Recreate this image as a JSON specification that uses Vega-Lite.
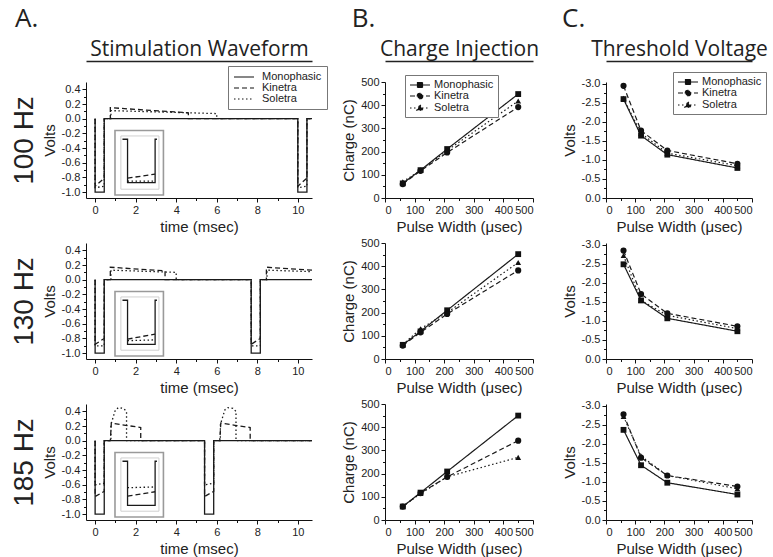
{
"$schema": "https://vega.github.io/schema/vega-lite/v6.json",
"padding": {"left": 10, "top": 6, "right": 10, "bottom": 6},
"columns": 3,
"spacing": {"row": 45, "column": 73},
"bounds": "flush",
"resolve": {"scale": {"strokeDash": "independent"}, "legend": {"strokeDash": "independent"}},
"datasets": {
"box": [
{"k":"outer","x1":0.98,"x2":3.37,"y1":-0.16,"y2":-1.04},
{"k":"inner","x1":1.27,"x2":3.15,"y1":-0.235,"y2":-0.96}
],
"wave": [
{"r":"100","s":"Kinetra","p":"m","i":0,"t":0,"v":0},
{"r":"100","s":"Kinetra","p":"m","i":1,"t":0,"v":-0.92},
{"r":"100","s":"Kinetra","p":"m","i":2,"t":0.45,"v":-0.81},
{"r":"100","s":"Kinetra","p":"m","i":3,"t":0.45,"v":0},
{"r":"100","s":"Kinetra","p":"m","i":4,"t":0.75,"v":0},
{"r":"100","s":"Kinetra","p":"m","i":5,"t":0.75,"v":0.15},
{"r":"100","s":"Kinetra","p":"m","i":6,"t":4.6,"v":0.08},
{"r":"100","s":"Kinetra","p":"m","i":7,"t":4.6,"v":0},
{"r":"100","s":"Kinetra","p":"m","i":8,"t":10,"v":0},
{"r":"100","s":"Kinetra","p":"m","i":9,"t":10,"v":-0.92},
{"r":"100","s":"Kinetra","p":"m","i":10,"t":10.45,"v":-0.81},
{"r":"100","s":"Kinetra","p":"m","i":11,"t":10.45,"v":0},
{"r":"100","s":"Kinetra","p":"m","i":12,"t":10.7,"v":0},
{"r":"100","s":"Kinetra","p":"n","i":0,"t":1.6,"v":-0.81},
{"r":"100","s":"Kinetra","p":"n","i":1,"t":2.96,"v":-0.755},
{"r":"100","s":"Soletra","p":"m","i":0,"t":0,"v":0},
{"r":"100","s":"Soletra","p":"m","i":1,"t":0,"v":-0.94},
{"r":"100","s":"Soletra","p":"m","i":2,"t":0.45,"v":-0.92},
{"r":"100","s":"Soletra","p":"m","i":3,"t":0.45,"v":0},
{"r":"100","s":"Soletra","p":"m","i":4,"t":0.78,"v":0},
{"r":"100","s":"Soletra","p":"m","i":5,"t":0.78,"v":0.11},
{"r":"100","s":"Soletra","p":"m","i":6,"t":6,"v":0.07},
{"r":"100","s":"Soletra","p":"m","i":7,"t":6,"v":0},
{"r":"100","s":"Soletra","p":"m","i":8,"t":10,"v":0},
{"r":"100","s":"Soletra","p":"m","i":9,"t":10,"v":-0.94},
{"r":"100","s":"Soletra","p":"m","i":10,"t":10.45,"v":-0.92},
{"r":"100","s":"Soletra","p":"m","i":11,"t":10.45,"v":0},
{"r":"100","s":"Soletra","p":"m","i":12,"t":10.7,"v":0},
{"r":"100","s":"Soletra","p":"n","i":0,"t":1.6,"v":-0.85},
{"r":"100","s":"Soletra","p":"n","i":1,"t":2.96,"v":-0.85},
{"r":"100","s":"Monophasic","p":"m","i":0,"t":0,"v":0},
{"r":"100","s":"Monophasic","p":"m","i":1,"t":0,"v":-1},
{"r":"100","s":"Monophasic","p":"m","i":2,"t":0.45,"v":-1},
{"r":"100","s":"Monophasic","p":"m","i":3,"t":0.45,"v":0},
{"r":"100","s":"Monophasic","p":"m","i":4,"t":10,"v":0},
{"r":"100","s":"Monophasic","p":"m","i":5,"t":10,"v":-1},
{"r":"100","s":"Monophasic","p":"m","i":6,"t":10.45,"v":-1},
{"r":"100","s":"Monophasic","p":"m","i":7,"t":10.45,"v":0},
{"r":"100","s":"Monophasic","p":"m","i":8,"t":10.7,"v":0},
{"r":"100","s":"Monophasic","p":"n","i":0,"t":1.35,"v":-0.28},
{"r":"100","s":"Monophasic","p":"n","i":1,"t":1.6,"v":-0.28},
{"r":"100","s":"Monophasic","p":"n","i":2,"t":1.6,"v":-0.87},
{"r":"100","s":"Monophasic","p":"n","i":3,"t":2.96,"v":-0.87},
{"r":"100","s":"Monophasic","p":"n","i":4,"t":2.96,"v":-0.28},
{"r":"100","s":"Monophasic","p":"n","i":5,"t":3.05,"v":-0.28},

{"r":"130","s":"Kinetra","p":"m","i":0,"t":0,"v":0},
{"r":"130","s":"Kinetra","p":"m","i":1,"t":0,"v":-0.88},
{"r":"130","s":"Kinetra","p":"m","i":2,"t":0.45,"v":-0.8},
{"r":"130","s":"Kinetra","p":"m","i":3,"t":0.45,"v":0},
{"r":"130","s":"Kinetra","p":"m","i":4,"t":0.75,"v":0},
{"r":"130","s":"Kinetra","p":"m","i":5,"t":0.75,"v":0.17},
{"r":"130","s":"Kinetra","p":"m","i":6,"t":3.45,"v":0.12},
{"r":"130","s":"Kinetra","p":"m","i":7,"t":3.45,"v":0},
{"r":"130","s":"Kinetra","p":"m","i":8,"t":7.7,"v":0},
{"r":"130","s":"Kinetra","p":"m","i":9,"t":7.7,"v":-0.88},
{"r":"130","s":"Kinetra","p":"m","i":10,"t":8.15,"v":-0.8},
{"r":"130","s":"Kinetra","p":"m","i":11,"t":8.15,"v":0},
{"r":"130","s":"Kinetra","p":"m","i":12,"t":8.45,"v":0},
{"r":"130","s":"Kinetra","p":"m","i":13,"t":8.45,"v":0.17},
{"r":"130","s":"Kinetra","p":"m","i":14,"t":10.7,"v":0.13},
{"r":"130","s":"Kinetra","p":"n","i":0,"t":1.6,"v":-0.81},
{"r":"130","s":"Kinetra","p":"n","i":1,"t":2.96,"v":-0.74},
{"r":"130","s":"Soletra","p":"m","i":0,"t":0,"v":0},
{"r":"130","s":"Soletra","p":"m","i":1,"t":0,"v":-0.9},
{"r":"130","s":"Soletra","p":"m","i":2,"t":0.45,"v":-0.9},
{"r":"130","s":"Soletra","p":"m","i":3,"t":0.45,"v":0},
{"r":"130","s":"Soletra","p":"m","i":4,"t":0.78,"v":0},
{"r":"130","s":"Soletra","p":"m","i":5,"t":0.78,"v":0.13},
{"r":"130","s":"Soletra","p":"m","i":6,"t":4,"v":0.1},
{"r":"130","s":"Soletra","p":"m","i":7,"t":4,"v":0},
{"r":"130","s":"Soletra","p":"m","i":8,"t":7.7,"v":0},
{"r":"130","s":"Soletra","p":"m","i":9,"t":7.7,"v":-0.9},
{"r":"130","s":"Soletra","p":"m","i":10,"t":8.15,"v":-0.9},
{"r":"130","s":"Soletra","p":"m","i":11,"t":8.15,"v":0},
{"r":"130","s":"Soletra","p":"m","i":12,"t":8.48,"v":0},
{"r":"130","s":"Soletra","p":"m","i":13,"t":8.48,"v":0.13},
{"r":"130","s":"Soletra","p":"m","i":14,"t":10.7,"v":0.11},
{"r":"130","s":"Soletra","p":"n","i":0,"t":1.6,"v":-0.83},
{"r":"130","s":"Soletra","p":"n","i":1,"t":2.96,"v":-0.82},
{"r":"130","s":"Monophasic","p":"m","i":0,"t":0,"v":0},
{"r":"130","s":"Monophasic","p":"m","i":1,"t":0,"v":-1},
{"r":"130","s":"Monophasic","p":"m","i":2,"t":0.45,"v":-1},
{"r":"130","s":"Monophasic","p":"m","i":3,"t":0.45,"v":0},
{"r":"130","s":"Monophasic","p":"m","i":4,"t":7.7,"v":0},
{"r":"130","s":"Monophasic","p":"m","i":5,"t":7.7,"v":-1},
{"r":"130","s":"Monophasic","p":"m","i":6,"t":8.15,"v":-1},
{"r":"130","s":"Monophasic","p":"m","i":7,"t":8.15,"v":0},
{"r":"130","s":"Monophasic","p":"m","i":8,"t":10.7,"v":0},
{"r":"130","s":"Monophasic","p":"n","i":0,"t":1.35,"v":-0.28},
{"r":"130","s":"Monophasic","p":"n","i":1,"t":1.6,"v":-0.28},
{"r":"130","s":"Monophasic","p":"n","i":2,"t":1.6,"v":-0.88},
{"r":"130","s":"Monophasic","p":"n","i":3,"t":2.96,"v":-0.88},
{"r":"130","s":"Monophasic","p":"n","i":4,"t":2.96,"v":-0.28},
{"r":"130","s":"Monophasic","p":"n","i":5,"t":3.05,"v":-0.28},

{"r":"185","s":"Kinetra","p":"m","i":0,"t":0,"v":0},
{"r":"185","s":"Kinetra","p":"m","i":1,"t":0,"v":-0.76},
{"r":"185","s":"Kinetra","p":"m","i":2,"t":0.45,"v":-0.69},
{"r":"185","s":"Kinetra","p":"m","i":3,"t":0.45,"v":0},
{"r":"185","s":"Kinetra","p":"m","i":4,"t":0.75,"v":0},
{"r":"185","s":"Kinetra","p":"m","i":5,"t":0.8,"v":0.24},
{"r":"185","s":"Kinetra","p":"m","i":6,"t":1.5,"v":0.21},
{"r":"185","s":"Kinetra","p":"m","i":7,"t":2.25,"v":0.18},
{"r":"185","s":"Kinetra","p":"m","i":8,"t":2.25,"v":0},
{"r":"185","s":"Kinetra","p":"m","i":9,"t":5.4,"v":0},
{"r":"185","s":"Kinetra","p":"m","i":10,"t":5.4,"v":-0.76},
{"r":"185","s":"Kinetra","p":"m","i":11,"t":5.85,"v":-0.69},
{"r":"185","s":"Kinetra","p":"m","i":12,"t":5.85,"v":0},
{"r":"185","s":"Kinetra","p":"m","i":13,"t":6.15,"v":0},
{"r":"185","s":"Kinetra","p":"m","i":14,"t":6.2,"v":0.24},
{"r":"185","s":"Kinetra","p":"m","i":15,"t":6.9,"v":0.21},
{"r":"185","s":"Kinetra","p":"m","i":16,"t":7.65,"v":0.18},
{"r":"185","s":"Kinetra","p":"m","i":17,"t":7.65,"v":0},
{"r":"185","s":"Kinetra","p":"m","i":18,"t":10.7,"v":0},
{"r":"185","s":"Kinetra","p":"n","i":0,"t":1.6,"v":-0.755},
{"r":"185","s":"Kinetra","p":"n","i":1,"t":2.96,"v":-0.695},
{"r":"185","s":"Soletra","p":"m","i":0,"t":0,"v":0},
{"r":"185","s":"Soletra","p":"m","i":1,"t":0,"v":-0.6},
{"r":"185","s":"Soletra","p":"m","i":2,"t":0.45,"v":-0.58},
{"r":"185","s":"Soletra","p":"m","i":3,"t":0.45,"v":0},
{"r":"185","s":"Soletra","p":"m","i":4,"t":0.78,"v":0},
{"r":"185","s":"Soletra","p":"m","i":5,"t":0.78,"v":0.22},
{"r":"185","s":"Soletra","p":"m","i":6,"t":1.0,"v":0.42},
{"r":"185","s":"Soletra","p":"m","i":7,"t":1.15,"v":0.45},
{"r":"185","s":"Soletra","p":"m","i":8,"t":1.4,"v":0.44},
{"r":"185","s":"Soletra","p":"m","i":9,"t":1.55,"v":0.4},
{"r":"185","s":"Soletra","p":"m","i":10,"t":1.55,"v":0},
{"r":"185","s":"Soletra","p":"m","i":11,"t":5.4,"v":0},
{"r":"185","s":"Soletra","p":"m","i":12,"t":5.4,"v":-0.6},
{"r":"185","s":"Soletra","p":"m","i":13,"t":5.85,"v":-0.58},
{"r":"185","s":"Soletra","p":"m","i":14,"t":5.85,"v":0},
{"r":"185","s":"Soletra","p":"m","i":15,"t":6.18,"v":0},
{"r":"185","s":"Soletra","p":"m","i":16,"t":6.18,"v":0.22},
{"r":"185","s":"Soletra","p":"m","i":17,"t":6.4,"v":0.42},
{"r":"185","s":"Soletra","p":"m","i":18,"t":6.55,"v":0.45},
{"r":"185","s":"Soletra","p":"m","i":19,"t":6.8,"v":0.44},
{"r":"185","s":"Soletra","p":"m","i":20,"t":6.95,"v":0.4},
{"r":"185","s":"Soletra","p":"m","i":21,"t":6.95,"v":0},
{"r":"185","s":"Soletra","p":"m","i":22,"t":10.7,"v":0},
{"r":"185","s":"Soletra","p":"n","i":0,"t":1.6,"v":-0.64},
{"r":"185","s":"Soletra","p":"n","i":1,"t":2.96,"v":-0.63},
{"r":"185","s":"Monophasic","p":"m","i":0,"t":0,"v":0},
{"r":"185","s":"Monophasic","p":"m","i":1,"t":0,"v":-1},
{"r":"185","s":"Monophasic","p":"m","i":2,"t":0.45,"v":-1},
{"r":"185","s":"Monophasic","p":"m","i":3,"t":0.45,"v":0},
{"r":"185","s":"Monophasic","p":"m","i":4,"t":5.4,"v":0},
{"r":"185","s":"Monophasic","p":"m","i":5,"t":5.4,"v":-1},
{"r":"185","s":"Monophasic","p":"m","i":6,"t":5.85,"v":-1},
{"r":"185","s":"Monophasic","p":"m","i":7,"t":5.85,"v":0},
{"r":"185","s":"Monophasic","p":"m","i":8,"t":10.7,"v":0},
{"r":"185","s":"Monophasic","p":"n","i":0,"t":1.35,"v":-0.28},
{"r":"185","s":"Monophasic","p":"n","i":1,"t":1.6,"v":-0.28},
{"r":"185","s":"Monophasic","p":"n","i":2,"t":1.6,"v":-0.88},
{"r":"185","s":"Monophasic","p":"n","i":3,"t":2.96,"v":-0.88},
{"r":"185","s":"Monophasic","p":"n","i":4,"t":2.96,"v":-0.28},
{"r":"185","s":"Monophasic","p":"n","i":5,"t":3.05,"v":-0.28}
],
"charge": [
{"r":"100","s":"Monophasic","pw":60,"q":63},{"r":"100","s":"Monophasic","pw":120,"q":120},{"r":"100","s":"Monophasic","pw":210,"q":211},{"r":"100","s":"Monophasic","pw":450,"q":448},
{"r":"100","s":"Kinetra","pw":60,"q":60},{"r":"100","s":"Kinetra","pw":120,"q":117},{"r":"100","s":"Kinetra","pw":210,"q":196},{"r":"100","s":"Kinetra","pw":450,"q":392},
{"r":"100","s":"Soletra","pw":60,"q":70},{"r":"100","s":"Soletra","pw":120,"q":119},{"r":"100","s":"Soletra","pw":210,"q":205},{"r":"100","s":"Soletra","pw":450,"q":418},
{"r":"130","s":"Monophasic","pw":60,"q":61},{"r":"130","s":"Monophasic","pw":120,"q":119},{"r":"130","s":"Monophasic","pw":210,"q":210},{"r":"130","s":"Monophasic","pw":450,"q":452},
{"r":"130","s":"Kinetra","pw":60,"q":58},{"r":"130","s":"Kinetra","pw":120,"q":115},{"r":"130","s":"Kinetra","pw":210,"q":194},{"r":"130","s":"Kinetra","pw":450,"q":382},
{"r":"130","s":"Soletra","pw":60,"q":62},{"r":"130","s":"Soletra","pw":120,"q":130},{"r":"130","s":"Soletra","pw":210,"q":200},{"r":"130","s":"Soletra","pw":450,"q":416},
{"r":"185","s":"Monophasic","pw":60,"q":58},{"r":"185","s":"Monophasic","pw":120,"q":118},{"r":"185","s":"Monophasic","pw":210,"q":209},{"r":"185","s":"Monophasic","pw":450,"q":450},
{"r":"185","s":"Kinetra","pw":60,"q":58},{"r":"185","s":"Kinetra","pw":120,"q":116},{"r":"185","s":"Kinetra","pw":210,"q":186},{"r":"185","s":"Kinetra","pw":450,"q":342},
{"r":"185","s":"Soletra","pw":60,"q":58},{"r":"185","s":"Soletra","pw":120,"q":114},{"r":"185","s":"Soletra","pw":210,"q":186},{"r":"185","s":"Soletra","pw":450,"q":270}
],
"thr": [
{"r":"100","s":"Monophasic","pw":60,"v":-2.6},{"r":"100","s":"Monophasic","pw":120,"v":-1.64},{"r":"100","s":"Monophasic","pw":210,"v":-1.14},{"r":"100","s":"Monophasic","pw":450,"v":-0.79},
{"r":"100","s":"Kinetra","pw":60,"v":-2.95},{"r":"100","s":"Kinetra","pw":120,"v":-1.77},{"r":"100","s":"Kinetra","pw":210,"v":-1.25},{"r":"100","s":"Kinetra","pw":450,"v":-0.9},
{"r":"100","s":"Soletra","pw":60,"v":-2.62},{"r":"100","s":"Soletra","pw":120,"v":-1.7},{"r":"100","s":"Soletra","pw":210,"v":-1.18},{"r":"100","s":"Soletra","pw":450,"v":-0.85},
{"r":"130","s":"Monophasic","pw":60,"v":-2.49},{"r":"130","s":"Monophasic","pw":120,"v":-1.54},{"r":"130","s":"Monophasic","pw":210,"v":-1.07},{"r":"130","s":"Monophasic","pw":450,"v":-0.73},
{"r":"130","s":"Kinetra","pw":60,"v":-2.85},{"r":"130","s":"Kinetra","pw":120,"v":-1.71},{"r":"130","s":"Kinetra","pw":210,"v":-1.2},{"r":"130","s":"Kinetra","pw":450,"v":-0.86},
{"r":"130","s":"Soletra","pw":60,"v":-2.72},{"r":"130","s":"Soletra","pw":120,"v":-1.54},{"r":"130","s":"Soletra","pw":210,"v":-1.15},{"r":"130","s":"Soletra","pw":450,"v":-0.8},
{"r":"185","s":"Monophasic","pw":60,"v":-2.37},{"r":"185","s":"Monophasic","pw":120,"v":-1.44},{"r":"185","s":"Monophasic","pw":210,"v":-0.98},{"r":"185","s":"Monophasic","pw":450,"v":-0.67},
{"r":"185","s":"Kinetra","pw":60,"v":-2.78},{"r":"185","s":"Kinetra","pw":120,"v":-1.64},{"r":"185","s":"Kinetra","pw":210,"v":-1.17},{"r":"185","s":"Kinetra","pw":450,"v":-0.88},
{"r":"185","s":"Soletra","pw":60,"v":-2.72},{"r":"185","s":"Soletra","pw":120,"v":-1.68},{"r":"185","s":"Soletra","pw":210,"v":-1.17},{"r":"185","s":"Soletra","pw":450,"v":-0.82}
]
},
"concat": [
{
"width": 226, "height": 116,
"title": {"text": "A.", "offset": 6, "dx": 5},
"resolve": {"axis": {"x": "independent", "y": "independent"}},
"layer": [
{"data": {"name": "box"}, "transform": [{"filter": "datum.k === 'outer'"}], "mark": {"type": "rect", "fill": "white", "stroke": "#9a9a9a", "strokeWidth": 1.6},
 "encoding": {"x": {"field": "x1", "type": "quantitative", "scale": {"domain": [-0.45, 10.7], "nice": false, "zero": false}, "axis": null}, "x2": {"field": "x2"}, "y": {"field": "y1", "type": "quantitative", "scale": {"domain": [-1.08, 0.5], "nice": false, "zero": false}, "axis": null}, "y2": {"field": "y2"}}},
{"data": {"name": "box"}, "transform": [{"filter": "datum.k === 'inner'"}], "mark": {"type": "rect", "fillOpacity": 0, "stroke": "#d0d0d0", "strokeWidth": 1},
 "encoding": {"x": {"field": "x1", "type": "quantitative", "axis": null}, "x2": {"field": "x2"}, "y": {"field": "y1", "type": "quantitative", "axis": null}, "y2": {"field": "y2"}}},
{"data": {"name": "wave"}, "transform": [{"filter": "datum.r === '100'"}], "mark": {"type": "line", "strokeWidth": 1.3, "color": "#1a1a1a"},
 "encoding": {
  "x": {"field": "t", "type": "quantitative", "axis": {"title": "time (msec)", "values": [0,2,4,6,8,10], "format": "d"}},
  "y": {"field": "v", "type": "quantitative", "axis": {"title": "Volts", "values": [-1,-0.8,-0.6,-0.4,-0.2,0,0.2,0.4], "format": ".1f"}},
  "strokeDash": {"field": "s", "type": "nominal", "scale": {"domain": ["Monophasic","Kinetra","Soletra"], "range": [[1,0],[5,3],[1.5,2.5]]},
   "legend": {"title": null, "orient": "none", "legendX": 142, "legendY": -16, "symbolType": "M-1,0H3", "symbolSize": 100, "symbolStrokeWidth": 1.2, "symbolStrokeColor": "#111", "labelOffset": 17, "padding": 5, "rowPadding": 0}},
  "detail": {"field": "p"},
  "order": {"field": "i"}}},
{"data": {"name": "wave"}, "mark": {"type": "point", "opacity": 0},
 "encoding": {"x": {"field": "t", "type": "quantitative", "axis": {"values": [1,3,5,7,9], "labels": false, "domain": false, "tickSize": 2.5, "title": null, "orient": "bottom"}},
  "y": {"field": "v", "type": "quantitative", "axis": {"values": [-0.9,-0.7,-0.5,-0.3,-0.1,0.1,0.3], "labels": false, "domain": false, "tickSize": 2.5, "title": null, "orient": "left"}}}},
{"data": {"name": "wave"}, "mark": {"type": "point", "opacity": 0},
 "encoding": {"x": {"field": "t", "type": "quantitative", "axis": {"orient": "top", "title": "Stimulation Waveform", "titleFont": "Open Sans", "titleFontSize": 21, "titlePadding": 2, "offset": 21, "labels": false, "ticks": false, "domain": true, "domainWidth": 1.3, "domainColor": "#222"}},
  "y": {"field": "v", "type": "quantitative", "axis": {"orient": "left", "title": "100 Hz", "titleFontSize": 28, "titlePadding": 48, "labels": false, "ticks": false, "domain": false}}}}
]
},
{
"width": 148, "height": 116,
"title": {"text": "B.", "offset": 6, "dx": 10},
"resolve": {"axis": {"x": "independent", "y": "independent"}},
"layer": [
{"data": {"name": "charge"}, "transform": [{"filter": "datum.r === '100'"}], "mark": {"type": "line", "strokeWidth": 1.2, "color": "#1a1a1a"},
 "encoding": {
  "x": {"field": "pw", "type": "quantitative", "scale": {"domain": [0, 500], "nice": false}, "axis": {"title": "Pulse Width (μsec)", "values": [0,100,200,300,400,500], "format": "d"}},
  "y": {"field": "q", "type": "quantitative", "scale": {"domain": [0, 500], "nice": false}, "axis": {"title": "Charge (nC)", "values": [0,100,200,300,400,500], "format": "d"}},
  "strokeDash": {"field": "s", "type": "nominal", "scale": {"domain": ["Monophasic","Kinetra","Soletra"], "range": [[1,0],[5,3],[1.5,2.5]]},
   "legend": {"title": null, "orient": "none", "legendX": 20, "legendY": -7, "symbolType": "M-1,0H3", "symbolSize": 100, "symbolStrokeWidth": 1.2, "symbolStrokeColor": "#111", "labelOffset": 13, "padding": 4, "rowPadding": 0,
    "encode": {"symbols": {"update": {
      "shape": {"signal": "datum.value === 'Monophasic' ? 'M-1,0H3M0.5,-0.5H1.5V0.5H0.5Z' : datum.value === 'Kinetra' ? 'M-1,0H3M1.55,0A0.55,0.55,0,1,1,0.45,0A0.55,0.55,0,1,1,1.55,0Z' : 'M-1,0H3M1,-0.62L1.62,0.45H0.38Z'"},
      "fill": {"value": "#111"}, "stroke": {"value": "#111"}, "strokeWidth": {"value": 1.2}}}}}}}},
{"data": {"name": "charge"}, "transform": [{"filter": "datum.r === '100' && datum.s === 'Monophasic'"}], "mark": {"type": "point", "shape": "square", "filled": true, "size": 34, "color": "#111", "opacity": 1},
 "encoding": {"x": {"field": "pw", "type": "quantitative", "axis": null}, "y": {"field": "q", "type": "quantitative", "axis": null}}},
{"data": {"name": "charge"}, "transform": [{"filter": "datum.r === '100' && datum.s === 'Kinetra'"}], "mark": {"type": "point", "shape": "circle", "filled": true, "size": 38, "color": "#111", "opacity": 1},
 "encoding": {"x": {"field": "pw", "type": "quantitative", "axis": null}, "y": {"field": "q", "type": "quantitative", "axis": null}}},
{"data": {"name": "charge"}, "transform": [{"filter": "datum.r === '100' && datum.s === 'Soletra'"}], "mark": {"type": "point", "shape": "triangle-up", "filled": true, "size": 34, "color": "#111", "opacity": 1},
 "encoding": {"x": {"field": "pw", "type": "quantitative", "axis": null}, "y": {"field": "q", "type": "quantitative", "axis": null}}},
{"data": {"name": "charge"}, "mark": {"type": "point", "opacity": 0},
 "encoding": {"x": {"field": "pw", "type": "quantitative", "axis": {"values": [50,150,250,350,450], "labels": false, "domain": false, "tickSize": 2.5, "title": null, "orient": "bottom"}},
  "y": {"field": "q", "type": "quantitative", "axis": {"values": [50,150,250,350,450], "labels": false, "domain": false, "tickSize": 2.5, "title": null, "orient": "left"}}}},
{"data": {"name": "charge"}, "mark": {"type": "point", "opacity": 0},
 "encoding": {"x": {"field": "pw", "type": "quantitative", "axis": {"orient": "top", "title": "Charge Injection", "titleFont": "Open Sans", "titleFontSize": 21, "titlePadding": 2, "offset": 21, "labels": false, "ticks": false, "domain": true, "domainWidth": 1.3, "domainColor": "#222"}},
  "y": {"field": "q", "type": "quantitative", "axis": null}}}
]
},
{
"width": 146, "height": 116,
"title": {"text": "C.", "offset": 6},
"resolve": {"axis": {"x": "independent", "y": "independent"}},
"layer": [
{"data": {"name": "thr"}, "transform": [{"filter": "datum.r === '100'"}], "mark": {"type": "line", "strokeWidth": 1.2, "color": "#1a1a1a"},
 "encoding": {
  "x": {"field": "pw", "type": "quantitative", "scale": {"domain": [0, 500], "nice": false}, "axis": {"title": "Pulse Width (μsec)", "values": [0,100,200,300,400,500], "format": "d"}},
  "y": {"field": "v", "type": "quantitative", "scale": {"domain": [-3.05, 0], "nice": false, "zero": false, "reverse": true}, "axis": {"title": "Volts", "values": [0,-0.5,-1,-1.5,-2,-2.5,-3], "format": ".1f"}},
  "strokeDash": {"field": "s", "type": "nominal", "scale": {"domain": ["Monophasic","Kinetra","Soletra"], "range": [[1,0],[5,3],[1.5,2.5]]},
   "legend": {"title": null, "orient": "none", "legendX": 67, "legendY": -10, "symbolType": "M-1,0H3", "symbolSize": 100, "symbolStrokeWidth": 1.2, "symbolStrokeColor": "#111", "labelOffset": 13, "padding": 4, "rowPadding": 0,
    "encode": {"symbols": {"update": {
      "shape": {"signal": "datum.value === 'Monophasic' ? 'M-1,0H3M0.5,-0.5H1.5V0.5H0.5Z' : datum.value === 'Kinetra' ? 'M-1,0H3M1.55,0A0.55,0.55,0,1,1,0.45,0A0.55,0.55,0,1,1,1.55,0Z' : 'M-1,0H3M1,-0.62L1.62,0.45H0.38Z'"},
      "fill": {"value": "#111"}, "stroke": {"value": "#111"}, "strokeWidth": {"value": 1.2}}}}}}}},
{"data": {"name": "thr"}, "transform": [{"filter": "datum.r === '100' && datum.s === 'Monophasic'"}], "mark": {"type": "point", "shape": "square", "filled": true, "size": 34, "color": "#111", "opacity": 1},
 "encoding": {"x": {"field": "pw", "type": "quantitative", "axis": null}, "y": {"field": "v", "type": "quantitative", "axis": null}}},
{"data": {"name": "thr"}, "transform": [{"filter": "datum.r === '100' && datum.s === 'Kinetra'"}], "mark": {"type": "point", "shape": "circle", "filled": true, "size": 38, "color": "#111", "opacity": 1},
 "encoding": {"x": {"field": "pw", "type": "quantitative", "axis": null}, "y": {"field": "v", "type": "quantitative", "axis": null}}},
{"data": {"name": "thr"}, "transform": [{"filter": "datum.r === '100' && datum.s === 'Soletra'"}], "mark": {"type": "point", "shape": "triangle-up", "filled": true, "size": 34, "color": "#111", "opacity": 1},
 "encoding": {"x": {"field": "pw", "type": "quantitative", "axis": null}, "y": {"field": "v", "type": "quantitative", "axis": null}}},
{"data": {"name": "thr"}, "mark": {"type": "point", "opacity": 0},
 "encoding": {"x": {"field": "pw", "type": "quantitative", "axis": {"values": [50,150,250,350,450], "labels": false, "domain": false, "tickSize": 2.5, "title": null, "orient": "bottom"}},
  "y": {"field": "v", "type": "quantitative", "axis": {"values": [-0.25,-0.75,-1.25,-1.75,-2.25,-2.75], "labels": false, "domain": false, "tickSize": 2.5, "title": null, "orient": "left"}}}},
{"data": {"name": "thr"}, "mark": {"type": "point", "opacity": 0},
 "encoding": {"x": {"field": "pw", "type": "quantitative", "axis": {"orient": "top", "title": "Threshold Voltage", "titleFont": "Open Sans", "titleFontSize": 21, "titlePadding": 2, "offset": 21, "labels": false, "ticks": false, "domain": true, "domainWidth": 1.3, "domainColor": "#222"}},
  "y": {"field": "v", "type": "quantitative", "axis": null}}}
]
},
{
"width": 226, "height": 116,
"resolve": {"axis": {"x": "independent", "y": "independent"}},
"layer": [
{"data": {"name": "box"}, "transform": [{"filter": "datum.k === 'outer'"}], "mark": {"type": "rect", "fill": "white", "stroke": "#9a9a9a", "strokeWidth": 1.6},
 "encoding": {"x": {"field": "x1", "type": "quantitative", "scale": {"domain": [-0.45, 10.7], "nice": false, "zero": false}, "axis": null}, "x2": {"field": "x2"}, "y": {"field": "y1", "type": "quantitative", "scale": {"domain": [-1.08, 0.5], "nice": false, "zero": false}, "axis": null}, "y2": {"field": "y2"}}},
{"data": {"name": "box"}, "transform": [{"filter": "datum.k === 'inner'"}], "mark": {"type": "rect", "fillOpacity": 0, "stroke": "#d0d0d0", "strokeWidth": 1},
 "encoding": {"x": {"field": "x1", "type": "quantitative", "axis": null}, "x2": {"field": "x2"}, "y": {"field": "y1", "type": "quantitative", "axis": null}, "y2": {"field": "y2"}}},
{"data": {"name": "wave"}, "transform": [{"filter": "datum.r === '130'"}], "mark": {"type": "line", "strokeWidth": 1.3, "color": "#1a1a1a"},
 "encoding": {
  "x": {"field": "t", "type": "quantitative", "axis": {"title": "time (msec)", "values": [0,2,4,6,8,10], "format": "d"}},
  "y": {"field": "v", "type": "quantitative", "axis": {"title": "Volts", "values": [-1,-0.8,-0.6,-0.4,-0.2,0,0.2,0.4], "format": ".1f"}},
  "strokeDash": {"field": "s", "type": "nominal", "scale": {"domain": ["Monophasic","Kinetra","Soletra"], "range": [[1,0],[5,3],[1.5,2.5]]}, "legend": null},
  "detail": {"field": "p"},
  "order": {"field": "i"}}},
{"data": {"name": "wave"}, "mark": {"type": "point", "opacity": 0},
 "encoding": {"x": {"field": "t", "type": "quantitative", "axis": {"values": [1,3,5,7,9], "labels": false, "domain": false, "tickSize": 2.5, "title": null, "orient": "bottom"}},
  "y": {"field": "v", "type": "quantitative", "axis": {"values": [-0.9,-0.7,-0.5,-0.3,-0.1,0.1,0.3], "labels": false, "domain": false, "tickSize": 2.5, "title": null, "orient": "left"}}}},
{"data": {"name": "wave"}, "mark": {"type": "point", "opacity": 0},
 "encoding": {"x": {"field": "t", "type": "quantitative", "axis": null},
  "y": {"field": "v", "type": "quantitative", "axis": {"orient": "left", "title": "130 Hz", "titleFontSize": 28, "titlePadding": 48, "labels": false, "ticks": false, "domain": false}}}}
]
},
{
"width": 148, "height": 116,
"resolve": {"axis": {"x": "independent", "y": "independent"}},
"layer": [
{"data": {"name": "charge"}, "transform": [{"filter": "datum.r === '130'"}], "mark": {"type": "line", "strokeWidth": 1.2, "color": "#1a1a1a"},
 "encoding": {
  "x": {"field": "pw", "type": "quantitative", "scale": {"domain": [0, 500], "nice": false}, "axis": {"title": "Pulse Width (μsec)", "values": [0,100,200,300,400,500], "format": "d"}},
  "y": {"field": "q", "type": "quantitative", "scale": {"domain": [0, 500], "nice": false}, "axis": {"title": "Charge (nC)", "values": [0,100,200,300,400,500], "format": "d"}},
  "strokeDash": {"field": "s", "type": "nominal", "scale": {"domain": ["Monophasic","Kinetra","Soletra"], "range": [[1,0],[5,3],[1.5,2.5]]}, "legend": null}}},
{"data": {"name": "charge"}, "transform": [{"filter": "datum.r === '130' && datum.s === 'Monophasic'"}], "mark": {"type": "point", "shape": "square", "filled": true, "size": 34, "color": "#111", "opacity": 1},
 "encoding": {"x": {"field": "pw", "type": "quantitative", "axis": null}, "y": {"field": "q", "type": "quantitative", "axis": null}}},
{"data": {"name": "charge"}, "transform": [{"filter": "datum.r === '130' && datum.s === 'Kinetra'"}], "mark": {"type": "point", "shape": "circle", "filled": true, "size": 38, "color": "#111", "opacity": 1},
 "encoding": {"x": {"field": "pw", "type": "quantitative", "axis": null}, "y": {"field": "q", "type": "quantitative", "axis": null}}},
{"data": {"name": "charge"}, "transform": [{"filter": "datum.r === '130' && datum.s === 'Soletra'"}], "mark": {"type": "point", "shape": "triangle-up", "filled": true, "size": 34, "color": "#111", "opacity": 1},
 "encoding": {"x": {"field": "pw", "type": "quantitative", "axis": null}, "y": {"field": "q", "type": "quantitative", "axis": null}}},
{"data": {"name": "charge"}, "mark": {"type": "point", "opacity": 0},
 "encoding": {"x": {"field": "pw", "type": "quantitative", "axis": {"values": [50,150,250,350,450], "labels": false, "domain": false, "tickSize": 2.5, "title": null, "orient": "bottom"}},
  "y": {"field": "q", "type": "quantitative", "axis": {"values": [50,150,250,350,450], "labels": false, "domain": false, "tickSize": 2.5, "title": null, "orient": "left"}}}}
]
},
{
"width": 146, "height": 116,
"resolve": {"axis": {"x": "independent", "y": "independent"}},
"layer": [
{"data": {"name": "thr"}, "transform": [{"filter": "datum.r === '130'"}], "mark": {"type": "line", "strokeWidth": 1.2, "color": "#1a1a1a"},
 "encoding": {
  "x": {"field": "pw", "type": "quantitative", "scale": {"domain": [0, 500], "nice": false}, "axis": {"title": "Pulse Width (μsec)", "values": [0,100,200,300,400,500], "format": "d"}},
  "y": {"field": "v", "type": "quantitative", "scale": {"domain": [-3.05, 0], "nice": false, "zero": false, "reverse": true}, "axis": {"title": "Volts", "values": [0,-0.5,-1,-1.5,-2,-2.5,-3], "format": ".1f"}},
  "strokeDash": {"field": "s", "type": "nominal", "scale": {"domain": ["Monophasic","Kinetra","Soletra"], "range": [[1,0],[5,3],[1.5,2.5]]}, "legend": null}}},
{"data": {"name": "thr"}, "transform": [{"filter": "datum.r === '130' && datum.s === 'Monophasic'"}], "mark": {"type": "point", "shape": "square", "filled": true, "size": 34, "color": "#111", "opacity": 1},
 "encoding": {"x": {"field": "pw", "type": "quantitative", "axis": null}, "y": {"field": "v", "type": "quantitative", "axis": null}}},
{"data": {"name": "thr"}, "transform": [{"filter": "datum.r === '130' && datum.s === 'Kinetra'"}], "mark": {"type": "point", "shape": "circle", "filled": true, "size": 38, "color": "#111", "opacity": 1},
 "encoding": {"x": {"field": "pw", "type": "quantitative", "axis": null}, "y": {"field": "v", "type": "quantitative", "axis": null}}},
{"data": {"name": "thr"}, "transform": [{"filter": "datum.r === '130' && datum.s === 'Soletra'"}], "mark": {"type": "point", "shape": "triangle-up", "filled": true, "size": 34, "color": "#111", "opacity": 1},
 "encoding": {"x": {"field": "pw", "type": "quantitative", "axis": null}, "y": {"field": "v", "type": "quantitative", "axis": null}}},
{"data": {"name": "thr"}, "mark": {"type": "point", "opacity": 0},
 "encoding": {"x": {"field": "pw", "type": "quantitative", "axis": {"values": [50,150,250,350,450], "labels": false, "domain": false, "tickSize": 2.5, "title": null, "orient": "bottom"}},
  "y": {"field": "v", "type": "quantitative", "axis": {"values": [-0.25,-0.75,-1.25,-1.75,-2.25,-2.75], "labels": false, "domain": false, "tickSize": 2.5, "title": null, "orient": "left"}}}}
]
},
{
"width": 226, "height": 116,
"resolve": {"axis": {"x": "independent", "y": "independent"}},
"layer": [
{"data": {"name": "box"}, "transform": [{"filter": "datum.k === 'outer'"}], "mark": {"type": "rect", "fill": "white", "stroke": "#9a9a9a", "strokeWidth": 1.6},
 "encoding": {"x": {"field": "x1", "type": "quantitative", "scale": {"domain": [-0.45, 10.7], "nice": false, "zero": false}, "axis": null}, "x2": {"field": "x2"}, "y": {"field": "y1", "type": "quantitative", "scale": {"domain": [-1.08, 0.5], "nice": false, "zero": false}, "axis": null}, "y2": {"field": "y2"}}},
{"data": {"name": "box"}, "transform": [{"filter": "datum.k === 'inner'"}], "mark": {"type": "rect", "fillOpacity": 0, "stroke": "#d0d0d0", "strokeWidth": 1},
 "encoding": {"x": {"field": "x1", "type": "quantitative", "axis": null}, "x2": {"field": "x2"}, "y": {"field": "y1", "type": "quantitative", "axis": null}, "y2": {"field": "y2"}}},
{"data": {"name": "wave"}, "transform": [{"filter": "datum.r === '185'"}], "mark": {"type": "line", "strokeWidth": 1.3, "color": "#1a1a1a"},
 "encoding": {
  "x": {"field": "t", "type": "quantitative", "axis": {"title": "time (msec)", "values": [0,2,4,6,8,10], "format": "d"}},
  "y": {"field": "v", "type": "quantitative", "axis": {"title": "Volts", "values": [-1,-0.8,-0.6,-0.4,-0.2,0,0.2,0.4], "format": ".1f"}},
  "strokeDash": {"field": "s", "type": "nominal", "scale": {"domain": ["Monophasic","Kinetra","Soletra"], "range": [[1,0],[5,3],[1.5,2.5]]}, "legend": null},
  "detail": {"field": "p"},
  "order": {"field": "i"}}},
{"data": {"name": "wave"}, "mark": {"type": "point", "opacity": 0},
 "encoding": {"x": {"field": "t", "type": "quantitative", "axis": {"values": [1,3,5,7,9], "labels": false, "domain": false, "tickSize": 2.5, "title": null, "orient": "bottom"}},
  "y": {"field": "v", "type": "quantitative", "axis": {"values": [-0.9,-0.7,-0.5,-0.3,-0.1,0.1,0.3], "labels": false, "domain": false, "tickSize": 2.5, "title": null, "orient": "left"}}}},
{"data": {"name": "wave"}, "mark": {"type": "point", "opacity": 0},
 "encoding": {"x": {"field": "t", "type": "quantitative", "axis": null},
  "y": {"field": "v", "type": "quantitative", "axis": {"orient": "left", "title": "185 Hz", "titleFontSize": 28, "titlePadding": 48, "labels": false, "ticks": false, "domain": false}}}}
]
},
{
"width": 148, "height": 116,
"resolve": {"axis": {"x": "independent", "y": "independent"}},
"layer": [
{"data": {"name": "charge"}, "transform": [{"filter": "datum.r === '185'"}], "mark": {"type": "line", "strokeWidth": 1.2, "color": "#1a1a1a"},
 "encoding": {
  "x": {"field": "pw", "type": "quantitative", "scale": {"domain": [0, 500], "nice": false}, "axis": {"title": "Pulse Width (μsec)", "values": [0,100,200,300,400,500], "format": "d"}},
  "y": {"field": "q", "type": "quantitative", "scale": {"domain": [0, 500], "nice": false}, "axis": {"title": "Charge (nC)", "values": [0,100,200,300,400,500], "format": "d"}},
  "strokeDash": {"field": "s", "type": "nominal", "scale": {"domain": ["Monophasic","Kinetra","Soletra"], "range": [[1,0],[5,3],[1.5,2.5]]}, "legend": null}}},
{"data": {"name": "charge"}, "transform": [{"filter": "datum.r === '185' && datum.s === 'Monophasic'"}], "mark": {"type": "point", "shape": "square", "filled": true, "size": 34, "color": "#111", "opacity": 1},
 "encoding": {"x": {"field": "pw", "type": "quantitative", "axis": null}, "y": {"field": "q", "type": "quantitative", "axis": null}}},
{"data": {"name": "charge"}, "transform": [{"filter": "datum.r === '185' && datum.s === 'Kinetra'"}], "mark": {"type": "point", "shape": "circle", "filled": true, "size": 38, "color": "#111", "opacity": 1},
 "encoding": {"x": {"field": "pw", "type": "quantitative", "axis": null}, "y": {"field": "q", "type": "quantitative", "axis": null}}},
{"data": {"name": "charge"}, "transform": [{"filter": "datum.r === '185' && datum.s === 'Soletra'"}], "mark": {"type": "point", "shape": "triangle-up", "filled": true, "size": 34, "color": "#111", "opacity": 1},
 "encoding": {"x": {"field": "pw", "type": "quantitative", "axis": null}, "y": {"field": "q", "type": "quantitative", "axis": null}}},
{"data": {"name": "charge"}, "mark": {"type": "point", "opacity": 0},
 "encoding": {"x": {"field": "pw", "type": "quantitative", "axis": {"values": [50,150,250,350,450], "labels": false, "domain": false, "tickSize": 2.5, "title": null, "orient": "bottom"}},
  "y": {"field": "q", "type": "quantitative", "axis": {"values": [50,150,250,350,450], "labels": false, "domain": false, "tickSize": 2.5, "title": null, "orient": "left"}}}}
]
},
{
"width": 146, "height": 116,
"resolve": {"axis": {"x": "independent", "y": "independent"}},
"layer": [
{"data": {"name": "thr"}, "transform": [{"filter": "datum.r === '185'"}], "mark": {"type": "line", "strokeWidth": 1.2, "color": "#1a1a1a"},
 "encoding": {
  "x": {"field": "pw", "type": "quantitative", "scale": {"domain": [0, 500], "nice": false}, "axis": {"title": "Pulse Width (μsec)", "values": [0,100,200,300,400,500], "format": "d"}},
  "y": {"field": "v", "type": "quantitative", "scale": {"domain": [-3.05, 0], "nice": false, "zero": false, "reverse": true}, "axis": {"title": "Volts", "values": [0,-0.5,-1,-1.5,-2,-2.5,-3], "format": ".1f"}},
  "strokeDash": {"field": "s", "type": "nominal", "scale": {"domain": ["Monophasic","Kinetra","Soletra"], "range": [[1,0],[5,3],[1.5,2.5]]}, "legend": null}}},
{"data": {"name": "thr"}, "transform": [{"filter": "datum.r === '185' && datum.s === 'Monophasic'"}], "mark": {"type": "point", "shape": "square", "filled": true, "size": 34, "color": "#111", "opacity": 1},
 "encoding": {"x": {"field": "pw", "type": "quantitative", "axis": null}, "y": {"field": "v", "type": "quantitative", "axis": null}}},
{"data": {"name": "thr"}, "transform": [{"filter": "datum.r === '185' && datum.s === 'Kinetra'"}], "mark": {"type": "point", "shape": "circle", "filled": true, "size": 38, "color": "#111", "opacity": 1},
 "encoding": {"x": {"field": "pw", "type": "quantitative", "axis": null}, "y": {"field": "v", "type": "quantitative", "axis": null}}},
{"data": {"name": "thr"}, "transform": [{"filter": "datum.r === '185' && datum.s === 'Soletra'"}], "mark": {"type": "point", "shape": "triangle-up", "filled": true, "size": 34, "color": "#111", "opacity": 1},
 "encoding": {"x": {"field": "pw", "type": "quantitative", "axis": null}, "y": {"field": "v", "type": "quantitative", "axis": null}}},
{"data": {"name": "thr"}, "mark": {"type": "point", "opacity": 0},
 "encoding": {"x": {"field": "pw", "type": "quantitative", "axis": {"values": [50,150,250,350,450], "labels": false, "domain": false, "tickSize": 2.5, "title": null, "orient": "bottom"}},
  "y": {"field": "v", "type": "quantitative", "axis": {"values": [-0.25,-0.75,-1.25,-1.75,-2.25,-2.75], "labels": false, "domain": false, "tickSize": 2.5, "title": null, "orient": "left"}}}}
]
}
],
"config": {
 "view": {"stroke": null},
 "locale": {"number": {"decimal": ".", "thousands": ",", "grouping": [3], "currency": ["$", ""], "minus": "-"}},
 "axis": {"grid": false, "domainColor": "#111", "tickColor": "#111", "labelFont": "Liberation Sans", "labelFontSize": 11, "labelColor": "#222", "titleFont": "Liberation Sans", "titleFontSize": 15, "titleFontWeight": "normal", "titleColor": "#222", "tickSize": 4, "labelPadding": 2},
 "legend": {"labelFont": "Liberation Sans", "labelFontSize": 11, "labelColor": "#222", "strokeColor": "#777", "fillColor": "white"},
 "title": {"font": "Open Sans", "fontSize": 26, "fontWeight": "normal", "anchor": "start", "frame": "bounds", "color": "#222"}
}
}
